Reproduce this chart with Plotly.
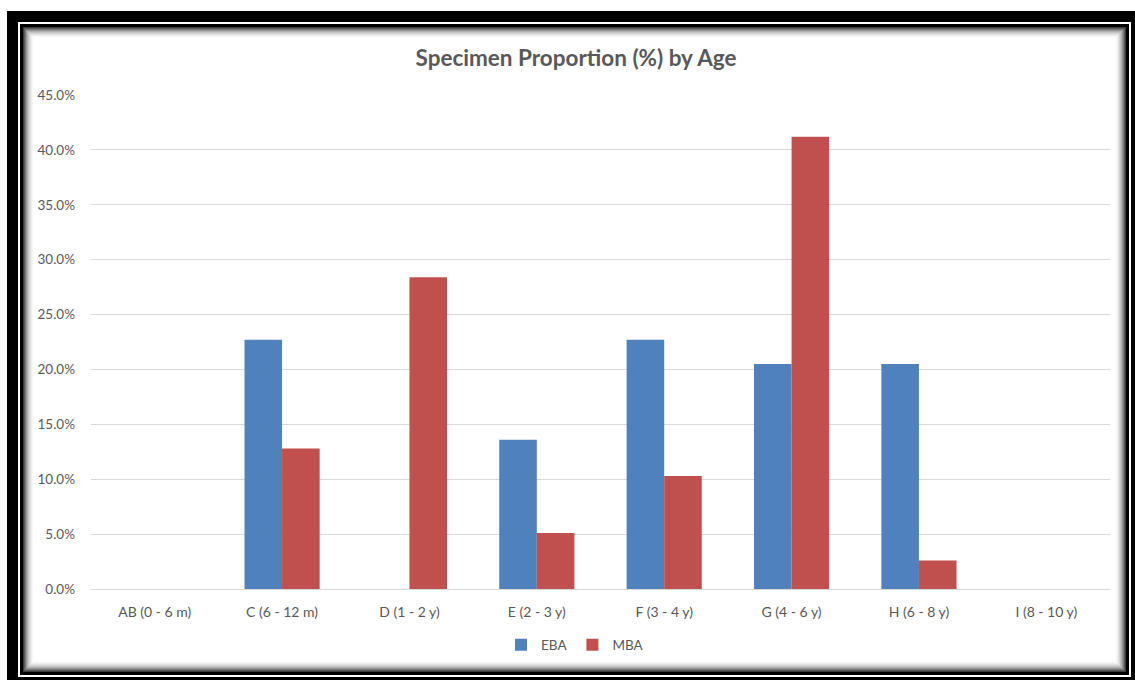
import plotly.graph_objects as go

# Age classes and the share of specimens (%) in each, per period
age_classes = ["AB (0 - 6 m)", "C (6 - 12 m)", "D (1 - 2 y)", "E (2 - 3 y)",
               "F (3 - 4 y)", "G (4 - 6 y)", "H (6 - 8 y)", "I (8 - 10 y)"]
eba_pct = [0.0, 22.7, 0.0, 13.6, 22.7, 20.5, 20.5, 0.0]
mba_pct = [0.0, 12.8, 28.4, 5.1, 10.3, 41.2, 2.6, 0.0]
y_ticks = [0, 5, 10, 15, 20, 25, 30, 35, 40, 45]

W, H = 1135, 681
ML, MR, MT, MB = 91, 25, 95, 92
PW, PH = W - ML - MR, H - MT - MB

TEXT = "#595959"
FONT = "Lato, 'Open Sans', sans-serif"


def px_rect(x0, y0, x1, y1, color):
    """Filled rectangle given in page pixels, placed on paper coordinates."""
    return dict(type="rect", xref="paper", yref="paper", layer="below",
                x0=(x0 - ML) / PW, x1=(x1 - ML) / PW,
                y0=(H - MB - y0) / PH, y1=(H - MB - y1) / PH,
                fillcolor=color, line=dict(width=0))


# Double black frame with an inner shadow around the chart
shapes = [
    px_rect(7, 11, 1135, 680, "#000000"),
    px_rect(18, 22, 1131, 677, "#ffffff"),
    px_rect(20, 24, 1129, 675, "#000000"),
]
shade = [60, 90, 120, 150, 175, 195, 212, 226, 238, 247, 253]
for i, g in enumerate(shade):
    shapes.append(px_rect(23 + i, 27 + i, 1126 - i, 672 - i, f"rgb({g},{g},{g})"))
shapes.append(px_rect(34, 38, 1115, 661, "#ffffff"))

fig = go.Figure()
fig.add_trace(go.Bar(name="EBA", x=age_classes, y=eba_pct,
                     marker=dict(color="#4f81bd", line=dict(width=0))))
fig.add_trace(go.Bar(name="MBA", x=age_classes, y=mba_pct,
                     marker=dict(color="#c0504d", line=dict(width=0))))

fig.update_layout(
    width=W, height=H,
    margin=dict(l=ML, r=MR, t=MT, b=MB),
    paper_bgcolor="#ffffff",
    plot_bgcolor="rgba(0,0,0,0)",
    barmode="group", bargap=0.41, bargroupgap=0.0,
    font=dict(family=FONT, color=TEXT, size=13),
    title=dict(text="<b>Specimen Proportion (%) by Age</b>",
               x=576 / W, xanchor="center",
               y=1 - 58 / H, yanchor="middle",
               font=dict(family=FONT, size=22.5, color=TEXT)),
    shapes=shapes,
    showlegend=True,
    legend=dict(orientation="h", x=0.475, xanchor="center",
                y=(H - MB - 645) / PH, yanchor="middle",
                font=dict(size=13.5, color=TEXT), itemwidth=30,
                bgcolor="rgba(0,0,0,0)"),
)
fig.update_xaxes(showgrid=False, showline=False, ticks="",
                 tickfont=dict(size=14, color=TEXT), ticklabelstandoff=13)
fig.update_yaxes(range=[0, 45], tickvals=y_ticks,
                 ticktext=[f"{v:.1f}%" for v in y_ticks],
                 showgrid=True, gridcolor="#d9d9d9", gridwidth=1,
                 zeroline=True, zerolinecolor="#d9d9d9", zerolinewidth=1,
                 showline=False, ticks="",
                 tickfont=dict(size=13.5, color=TEXT), ticklabelstandoff=15)

fig.write_html("out.html")
